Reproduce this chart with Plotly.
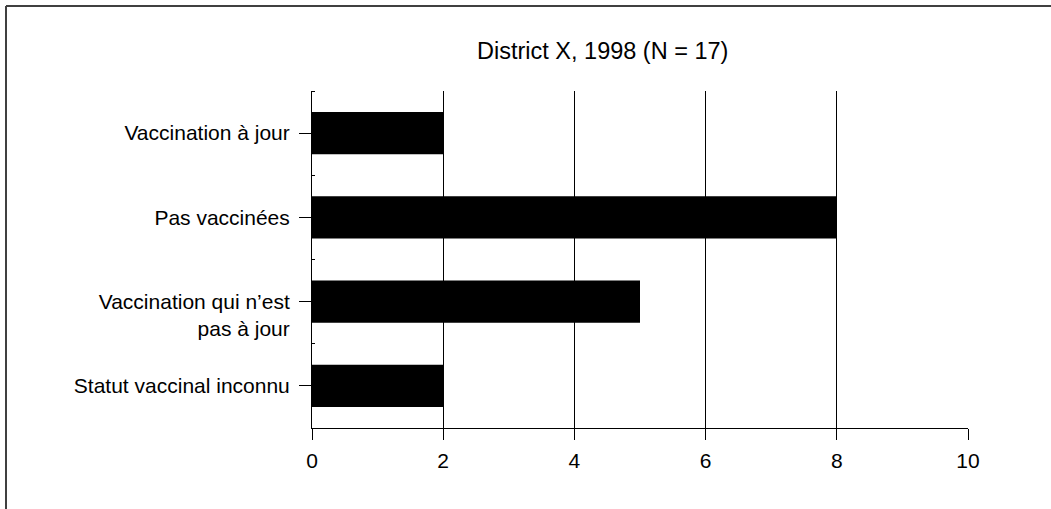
import plotly.graph_objects as go

categories = [
    "Vaccination à jour",
    "Pas vaccinées",
    " <br>Vaccination qui n’est<br>pas à jour",
    "Statut vaccinal inconnu",
]
values = [2, 8, 5, 2]
x_ticks = [0, 2, 4, 6, 8, 10]
title_text = "District X, 1998 (N = 17)"

W, H = 1051, 509
L, R, T, B = 312, 968, 91, 428

positions = list(range(len(categories)))
boundaries = [p - 0.5 for p in positions] + [positions[-1] + 0.5]

font = dict(family="Liberation Sans, Arial, sans-serif", size=21, color="#000000")

fig = go.Figure(
    go.Bar(
        x=values,
        y=positions,
        orientation="h",
        width=0.5,
        marker=dict(color="#000000", line=dict(width=0)),
        hoverinfo="skip",
    )
)

fig.update_layout(
    width=W,
    height=H,
    margin=dict(l=L, r=W - R, t=T, b=H - B, pad=0),
    paper_bgcolor="#ffffff",
    plot_bgcolor="#ffffff",
    showlegend=False,
    font=font,
)

fig.update_xaxes(
    range=[0, 10],
    tickvals=x_ticks,
    ticktext=[str(v) for v in x_ticks],
    ticks="outside",
    ticklen=11,
    tickwidth=1,
    tickcolor="#000000",
    showline=True,
    linecolor="#000000",
    linewidth=1,
    showgrid=True,
    gridcolor="#000000",
    gridwidth=1,
    zeroline=False,
    tickfont=font,
    ticklabelstandoff=3,
)

fig.update_yaxes(
    range=[positions[-1] + 0.5, positions[0] - 0.5],
    tickvals=positions,
    ticktext=categories,
    ticks="outside",
    ticklen=12,
    tickwidth=1,
    tickcolor="#000000",
    showline=True,
    linecolor="#000000",
    linewidth=1,
    showgrid=False,
    zeroline=False,
    tickfont=font,
    ticklabelstandoff=5,
    minor=dict(
        tickvals=boundaries,
        ticks="inside",
        ticklen=3,
        tickwidth=1,
        tickcolor="#000000",
        showgrid=False,
    ),
)

# Title
fig.add_annotation(
    text=title_text,
    xref="paper",
    yref="paper",
    x=(602 - L) / (R - L),
    y=1 + (T - 51) / (B - T),
    xanchor="center",
    yanchor="middle",
    showarrow=False,
    font=dict(family="Liberation Sans, Arial, sans-serif", size=23.5, color="#000000"),
)

# Frame (top and left edges)
fx = (6 - L) / (R - L)
fy = 1 + (T - 6) / (B - T)
fig.add_shape(type="line", xref="paper", yref="paper", x0=fx, x1=(W - L) / (R - L) + 0.01,
              y0=fy, y1=fy, line=dict(color="#404040", width=2))
fig.add_shape(type="line", xref="paper", yref="paper", x0=fx, x1=fx,
              y0=fy, y1=-(H - B) / (B - T) - 0.01, line=dict(color="#404040", width=2))

fig.write_html(
    "out.html",
    config={"displayModeBar": False, "staticPlot": True},
    post_script="document.body.style.margin='0';",
)
